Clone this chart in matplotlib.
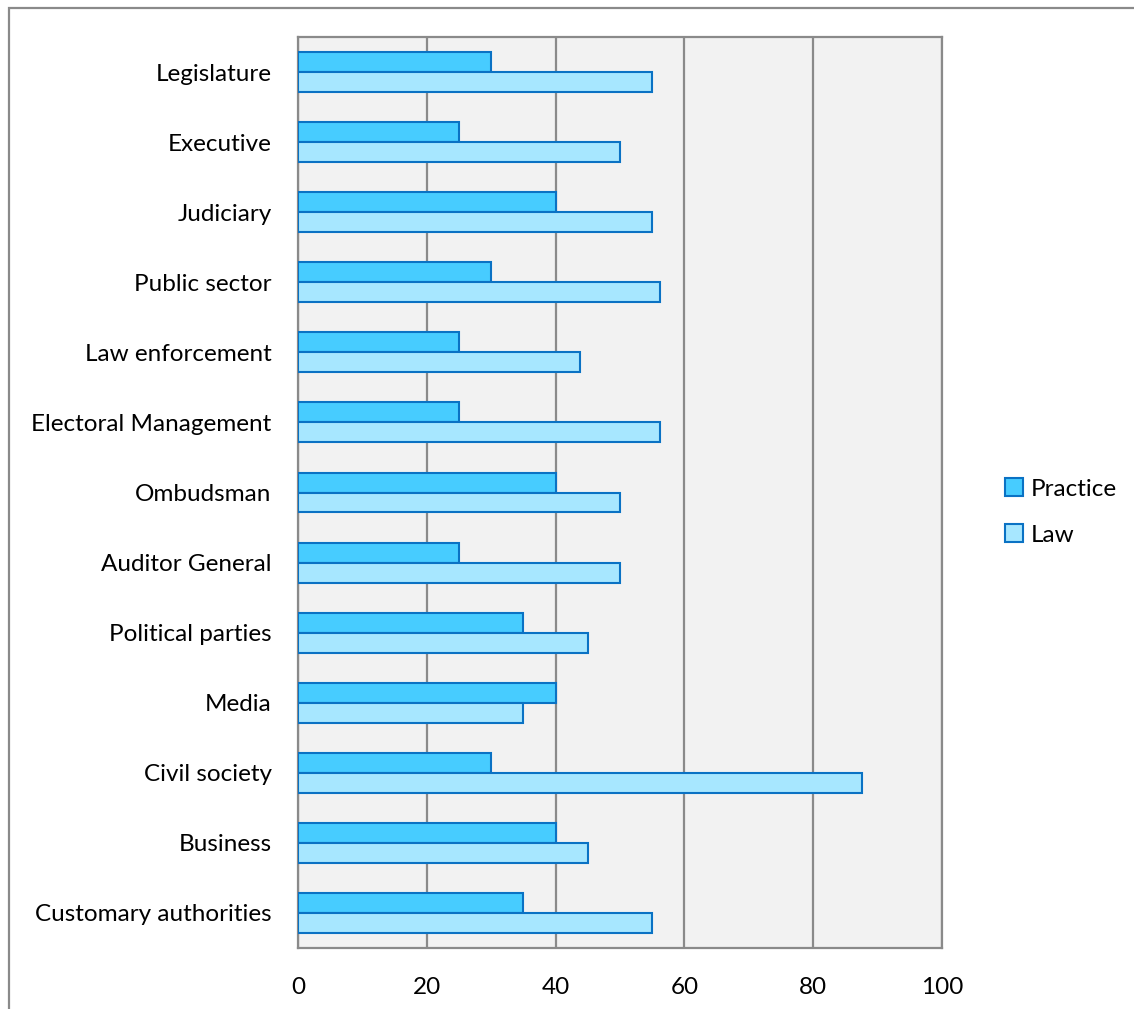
import matplotlib
matplotlib.use("Agg")
import matplotlib.pyplot as plt
from matplotlib.patches import Rectangle
import numpy as np

plt.rcParams['font.family'] = ['Lato', 'DejaVu Sans']

categories = ["Legislature", "Executive", "Judiciary", "Public sector", "Law enforcement",
              "Electoral Management", "Ombudsman", "Auditor General", "Political parties",
              "Media", "Civil society", "Business", "Customary authorities"]
practice = [30, 25, 40, 30, 25, 25, 40, 25, 35, 40, 30, 40, 35]
law = [55, 50, 55, 56.25, 43.75, 56.25, 50, 50, 45, 35, 87.5, 45, 55]
xticks = [0, 20, 40, 60, 80, 100]

W, H = 1134, 1009
fig = plt.figure(figsize=(W/100, H/100), dpi=100)
fig.patch.set_facecolor('white')

# outer frame
fig.patches.append(Rectangle((9/W, -0.1), 1.2, (1009-8)/H + 0.1, transform=fig.transFigure,
                             fill=False, edgecolor='#8a8a8a', linewidth=1.6))

left, right, top, bottom = 298, 942, 37, 948
ax = fig.add_axes([left/W, 1-bottom/H, (right-left)/W, (bottom-top)/H])
ax.set_facecolor('#F2F2F2')

n = len(categories)
y = np.arange(n)
bh = 0.285
ax.barh(y - bh/2, practice, height=bh, color='#47CCFF', edgecolor='#0A72C4', linewidth=1.5,
        label='Practice', zorder=3)
ax.barh(y + bh/2, law, height=bh, color='#A7E7FF', edgecolor='#0A72C4', linewidth=1.5,
        label='Law', zorder=3)

fs = 17.5
ax.set_ylim(n - 0.5, -0.5)
ax.set_xlim(0, 100)
ax.set_yticks(y)
ax.set_yticklabels(categories, fontsize=fs)
ax.set_xticks(xticks)
ax.set_xticklabels([str(t) for t in xticks], fontsize=fs)
ax.tick_params(axis='both', length=0)
ax.tick_params(axis='y', pad=19)
ax.tick_params(axis='x', pad=21)
ax.xaxis.grid(True, color='#8a8a8a', linewidth=1.6, zorder=0)
ax.set_axisbelow(True)
for s in ax.spines.values():
    s.set_color('#8a8a8a')
    s.set_linewidth(1.6)

leg = fig.legend(loc='center left', bbox_to_anchor=(983/W, 1-512/H), frameon=False,
                 fontsize=fs, handlelength=0.75, handleheight=0.75, handletextpad=0.3,
                 labelspacing=1.0)

fig.savefig('out.png', dpi=100)
